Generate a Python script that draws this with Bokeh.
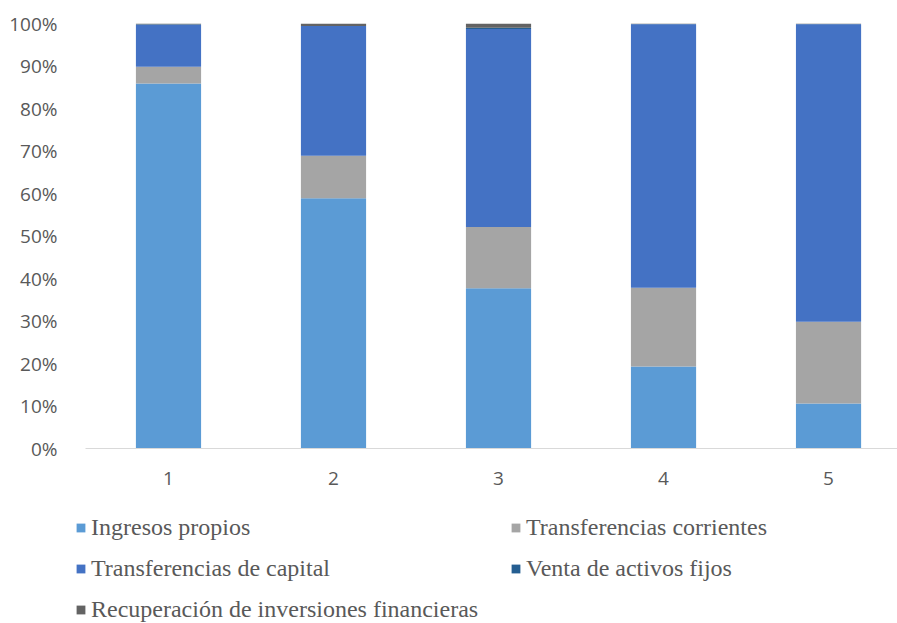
from bokeh.plotting import figure
from bokeh.layouts import column
from bokeh.models import ColumnDataSource, Legend, LegendItem, NumeralTickFormatter, FixedTicker, Range1d
from bokeh.embed import file_html
from bokeh.resources import INLINE

categories = [1, 2, 3, 4, 5]
ingresos_propios = [85.9, 58.9, 37.7, 19.3, 10.6]
transf_corrientes = [3.9, 10.0, 14.4, 18.5, 19.2]
transf_capital = [9.9, 30.5, 46.6, 62.0, 70.0]
venta_activos = [0.1, 0.0, 0.3, 0.1, 0.1]
recuperacion_inv = [0.2, 0.6, 1.0, 0.1, 0.1]

series_names = ["Ingresos propios", "Transferencias corrientes", "Transferencias de capital",
                "Venta de activos fijos", "Recuperación de inversiones financieras"]
series_values = [ingresos_propios, transf_corrientes, transf_capital, venta_activos, recuperacion_inv]
colors = ["#5B9BD5", "#A5A5A5", "#4472C4", "#255E91", "#636363"]
keys = ["s0", "s1", "s2", "s3", "s4"]

totals = [sum(v[i] for v in series_values) for i in range(len(categories))]
data = {"x": categories}
for k, vals in zip(keys, series_values):
    data[k] = [vals[i] / totals[i] for i in range(len(categories))]
source = ColumnDataSource(data)

p = figure(width=897, height=500, output_backend="svg", toolbar_location=None,
           x_range=Range1d(0.497, 5.418), y_range=Range1d(0, 1),
           min_border_left=85, min_border_top=23, min_border_bottom=52, min_border_right=0)
p.frame_align = False

p.vbar_stack(keys, x="x", width=0.395, source=source, color=colors, line_width=0)

p.outline_line_color = None
p.xgrid.grid_line_color = None
p.ygrid.grid_line_color = None

p.yaxis.ticker = FixedTicker(ticks=[i / 10 for i in range(11)])
p.yaxis.formatter = NumeralTickFormatter(format="0%")
p.yaxis.axis_line_color = None
p.yaxis.major_tick_line_color = None
p.yaxis.minor_tick_line_color = None
p.yaxis.major_label_standoff = 22
p.yaxis.major_label_text_font = "Open Sans"
p.yaxis.major_label_text_font_size = "19px"
p.yaxis.major_label_text_color = "#595959"

p.xaxis.ticker = FixedTicker(ticks=categories)
p.xaxis.axis_line_color = "#D9D9D9"
p.xaxis.axis_line_width = 1
p.xaxis.major_tick_line_color = None
p.xaxis.minor_tick_line_color = None
p.xaxis.major_label_standoff = 17
p.xaxis.major_label_text_font = "Open Sans"
p.xaxis.major_label_text_font_size = "19px"
p.xaxis.major_label_text_color = "#595959"

# Legend panel: a second figure whose view excludes the bars, used only for the legend
lg = figure(width=897, height=123, output_backend="svg", toolbar_location=None,
            x_range=Range1d(0, 1), y_range=Range1d(5, 6),
            min_border=0, x_axis_location=None, y_axis_location=None)
lg.frame_align = False
lg.outline_line_color = None
lg.xgrid.grid_line_color = None
lg.ygrid.grid_line_color = None
lg_renderers = lg.vbar_stack(keys, x="x", width=0.395, source=source, color=colors, line_width=0)

items = [LegendItem(label=n, renderers=[r]) for n, r in zip(series_names, lg_renderers)]
legend = Legend(items=items, location=(75, 0), ncols=2, orientation="horizontal",
                glyph_width=11, glyph_height=11, label_standoff=5, spacing=14,
                label_width=405, label_height=26, padding=0, margin=0,
                border_line_color=None, background_fill_alpha=0,
                label_text_font="Liberation Serif", label_text_font_size="24px",
                label_text_color="#595959")
lg.add_layout(legend, "center")

layout = column(p, lg, spacing=0)
open("out.html", "w").write(file_html(layout, INLINE))
